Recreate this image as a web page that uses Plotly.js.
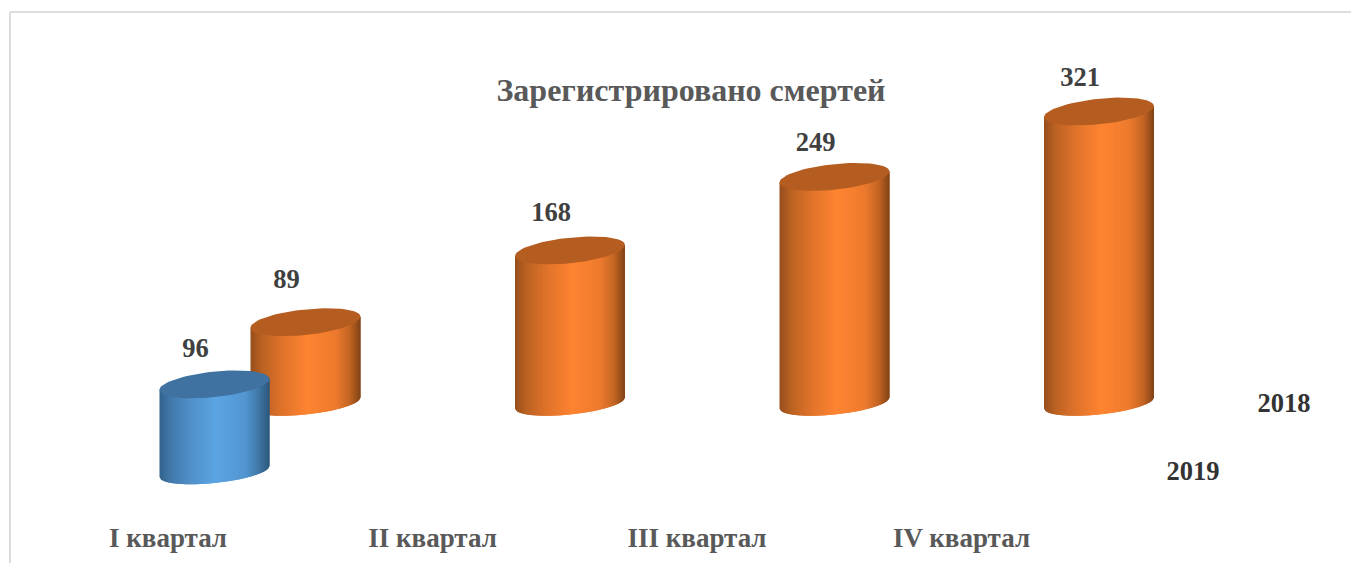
<!DOCTYPE html>
<html><head><meta charset="utf-8">
<script src="https://cdn.plot.ly/plotly-3.0.1.min.js"></script>
<style>html,body{margin:0;padding:0;background:#fff}#c{width:1351px;height:563px}</style>
</head><body><div id="c"></div>
<script>
const categories = ["I квартал", "II квартал", "III квартал", "IV квартал"];
const values2018 = [89, 168, 249, 321];
const values2019 = [96, null, null, null];
const seriesNames = ["2018", "2019"];

const W = 1351, H = 563, MB = 44;
const PXX = 264.5, PXY = 0.908;         // px per x unit / per value unit
const X0PX = 305.5, Y0PX = 403;         // pixel of category 0 / value 0
const RX = 55 / PXX, RY = 12.8 / PXY, RY_FRONT = 11.5 / PXY, TILT = 5.5 / PXY;
const DEPTH_X = -91 / PXX, DEPTH_Y = -68.5 / PXY;
const STRIPS = 56;
const orangeRamp = [[0,[150,78,28]],[0.1,[186,97,34]],[0.28,[222,114,42]],[0.52,[255,132,49]],[0.78,[236,122,45]],[0.9,[196,101,35]],[1,[128,66,22]]];
const blueRamp = [[0,[50,98,140]],[0.1,[66,120,170]],[0.28,[80,144,200]],[0.52,[91,165,228]],[0.78,[82,150,208]],[0.9,[64,120,168]],[1,[44,86,122]]];
const orangeTop = "#b55c20", blueTop = "#3f72a0";

function ramp(stops, t) {
  for (let i = 1; i < stops.length; i++) {
    if (t <= stops[i][0]) {
      const a = stops[i-1], b = stops[i], f = (t-a[0])/(b[0]-a[0]);
      return "rgb(" + a[1].map((v,k)=>Math.round(v+(b[1][k]-v)*f)).join(",") + ")";
    }
  }
  return "rgb(" + stops[stops.length-1][1].join(",") + ")";
}
function poly(xs, ys, color) {
  return {type:"scatter", mode:"lines", x:xs, y:ys, fill:"toself", fillcolor:color,
          line:{width:0, color:color}, hoverinfo:"skip", showlegend:false, cliponaxis:false};
}
function cylinder(cx, base, value, stops, topColor) {
  const out = [], top = base + value;
  const lean = dx => TILT * dx / RX;
  const front = dx => base + lean(dx) - RY_FRONT * Math.sqrt(Math.max(0, 1 - dx*dx/(RX*RX)));
  for (let i = 0; i < STRIPS; i++) {
    const a = -RX + 2*RX*i/STRIPS;
    const b = Math.min(RX, -RX + 2*RX*(i+2)/STRIPS);
    const xs = [], ys = [];
    for (let k = 0; k <= 3; k++) { const d = a+(b-a)*k/3; xs.push(cx+d); ys.push(top+lean(d)); }
    for (let k = 3; k >= 0; k--) { const d = a+(b-a)*k/3; xs.push(cx+d); ys.push(front(d)); }
    out.push(poly(xs, ys, ramp(stops, (i+0.5)/STRIPS)));
  }
  const ex = [], ey = [];
  for (let k = 0; k <= 72; k++) {
    const t = 2*Math.PI*k/72, c = Math.cos(t);
    ex.push(cx + RX*c); ey.push(top + TILT*c + RY*Math.sin(t));
  }
  out.push(poly(ex, ey, topColor));
  return out;
}

const traces = [];
values2018.forEach((v,i) => { traces.push(...cylinder(i, 0, v, orangeRamp, orangeTop)); });
values2019.forEach((v,i) => { if (v !== null) traces.push(...cylinder(i+DEPTH_X, DEPTH_Y, v, blueRamp, blueTop)); });

const LABEL_DX = -19 / PXX;
const lift2018 = [41, 36, 33, 32].map(p => p / PXY);
const lift2019 = 34 / PXY;
const labelFont = {family:"Liberation Serif", size:26.5, color:"#404040", weight:700};
traces.push({type:"scatter", mode:"text", x:values2018.map((v,i)=>i+LABEL_DX),
  y:values2018.map((v,i)=>v+lift2018[i]), text:values2018.map(String), textfont:labelFont,
  textposition:"middle center", hoverinfo:"skip", showlegend:false, cliponaxis:false});
traces.push({type:"scatter", mode:"text", x:[0+DEPTH_X+LABEL_DX], y:[DEPTH_Y+values2019[0]+lift2019],
  text:[String(values2019[0])], textfont:labelFont, textposition:"middle center",
  hoverinfo:"skip", showlegend:false, cliponaxis:false});
const SERIES_X = (1284 - X0PX) / PXX;
const SERIES_DY = -2 / PXY;
traces.push({type:"scatter", mode:"text", x:[SERIES_X, SERIES_X+DEPTH_X], y:[SERIES_DY, DEPTH_Y+SERIES_DY],
  text:seriesNames, textfont:{family:"Liberation Serif", size:26.5, color:"#333333", weight:700},
  textposition:"middle center", hoverinfo:"skip", showlegend:false, cliponaxis:false});

const TICK_SHIFT = -137.5 / PXX;
const border = "#dddddd";
const py = p => 1 - p / (H - MB);
const layout = {
  width:W, height:H, paper_bgcolor:"#fff", plot_bgcolor:"#fff", showlegend:false,
  margin:{l:0, r:0, t:0, b:MB, pad:0},
  title:{text:"<b>Зарегистрировано смертей</b>", x:691/W, xanchor:"center", y:1-90/H, yanchor:"middle",
         font:{family:"Liberation Serif", size:32, color:"#595959"}},
  xaxis:{range:[-X0PX/PXX, (W-X0PX)/PXX], showgrid:false, zeroline:false, showline:false, ticks:"",
         tickmode:"array", tickvals:categories.map((c,i)=>i+TICK_SHIFT), ticktext:categories.map(c=>"<b>"+c+"</b>"),
         tickfont:{family:"Liberation Serif", size:27, color:"#595959"}, tickangle:0, automargin:false, fixedrange:true},
  yaxis:{range:[(Y0PX-(H-MB))/PXY, Y0PX/PXY], showgrid:false, zeroline:false, showline:false,
         showticklabels:false, ticks:"", fixedrange:true},
  shapes:[
    {type:"line", xref:"paper", yref:"paper", x0:10/W, x1:10/W, y0:py(12), y1:py(H), line:{color:border,width:2}},
    {type:"line", xref:"paper", yref:"paper", x0:10/W, x1:1, y0:py(12), y1:py(12), line:{color:border,width:2}}
  ]
};
Plotly.newPlot("c", traces, layout, {displayModeBar:false, staticPlot:true});
</script></body></html>
